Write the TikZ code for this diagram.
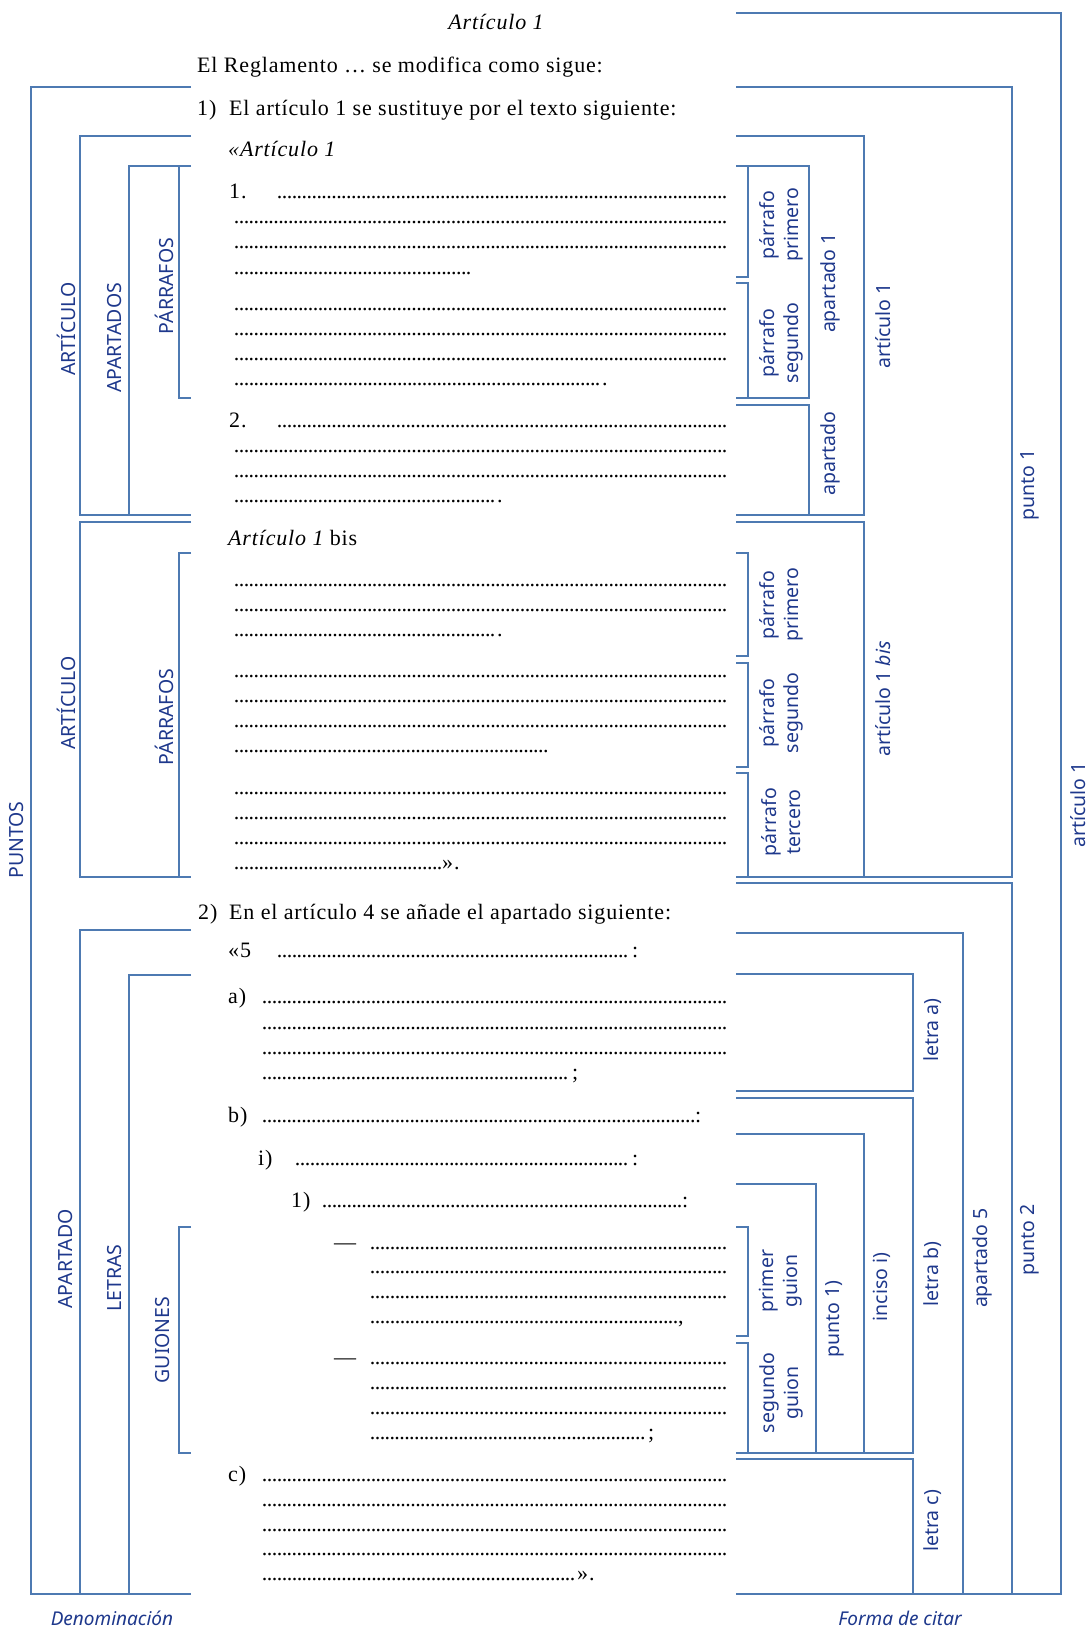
\documentclass[tikz,border=0pt]{standalone}
\usepackage{fontspec}
\setmainfont{Liberation Serif}[LetterSpace=3.8]
\newfontfamily\labfont{Noto Sans}
\definecolor{ln}{RGB}{78,122,178}
\definecolor{lb}{RGB}{30,56,140}
\tikzset{
  br/.style={draw=ln, line width=1.7pt},
  txt/.style={anchor=base west, inner sep=0pt, font=\fontsize{22}{25}\selectfont},
  vl/.style={rotate=90, text=lb, inner sep=0pt, align=center, font=\labfont\fontsize{19.5}{24}\selectfont},
  lbl/.style={text=lb, inner sep=0pt, font=\labfont\fontsize{19}{22}\selectfont},
}
% dotted text row: name, x start, x end, baseline, suffix
\newcommand\drow[5]{\node[txt] (#1) at (#2,#4) {\hbox to \dimexpr #3pt-#2pt\relax{\xleaders\hbox to 4.9pt{\hss.\hss}\hfill}#5};}
\begin{document}
\begin{tikzpicture}[x=1pt,y=-1pt]
\useasboundingbox (0,0) rectangle (1089,1629);
% ---------- left brackets (Denominacion)
\draw[br] (191,87) -- (31,87) -- (31,1594) -- (191,1594);
\draw[br] (191,136) -- (80,136) -- (80,515) -- (191,515);
\draw[br] (191,166) -- (129,166) -- (129,515);
\draw[br] (179,166) -- (179,398) -- (191,398);
\draw[br] (191,522) -- (80,522) -- (80,877) -- (191,877);
\draw[br] (191,553) -- (179,553) -- (179,877);
\draw[br] (191,930) -- (80,930) -- (80,1594);
\draw[br] (191,975) -- (129,975) -- (129,1594);
\draw[br] (191,1227) -- (179,1227) -- (179,1453) -- (191,1453);
% ---------- right brackets (Forma de citar)
\draw[br] (736,13) -- (1061,13) -- (1061,1594) -- (736,1594);
\draw[br] (736,87) -- (1012,87) -- (1012,877) -- (736,877);
\draw[br] (736,136) -- (864,136) -- (864,515) -- (736,515);
\draw[br] (736,166) -- (809,166) -- (809,398) -- (736,398);
\draw[br] (748,166) -- (748,277) -- (736,277);
\draw[br] (736,283) -- (748,283) -- (748,398);
\draw[br] (736,405) -- (809,405) -- (809,515);
\draw[br] (736,522) -- (864,522) -- (864,877);
\draw[br] (736,553) -- (748,553) -- (748,656) -- (736,656);
\draw[br] (736,663) -- (748,663) -- (748,767) -- (736,767);
\draw[br] (736,773) -- (748,773) -- (748,877);
\draw[br] (736,883) -- (1012,883) -- (1012,1594);
\draw[br] (736,933) -- (963,933) -- (963,1594);
\draw[br] (736,974) -- (913,974) -- (913,1091) -- (736,1091);
\draw[br] (736,1098) -- (913,1098) -- (913,1453) -- (736,1453);
\draw[br] (736,1134) -- (864,1134) -- (864,1453);
\draw[br] (736,1184) -- (816,1184) -- (816,1453);
\draw[br] (736,1227) -- (748,1227) -- (748,1336) -- (736,1336);
\draw[br] (736,1343) -- (748,1343) -- (748,1453);
\draw[br] (736,1459) -- (913,1459) -- (913,1594);
% ---------- text
\node[txt, anchor=base] (h) at (496,30) {\itshape Artículo 1};
\node[txt] (t1) at (197,73) {El Reglamento … se modifica como sigue:};
\node[txt] (t2a) at (197,116) {1)};
\node[txt] (t2b) at (229,116) {El artículo 1 se sustituye por el texto siguiente:};
\node[txt] (t3) at (228,157) {\itshape «Artículo 1};
\node[txt] (p1) at (229,199) {1.};
\drow{d1}{277}{727}{199}{}
\drow{d2}{234}{727}{224}{}
\drow{d3}{234}{727}{249}{}
\drow{d4}{234}{471}{274}{}
\drow{d5}{234}{727}{310}{}
\drow{d6}{234}{727}{335}{}
\drow{d7}{234}{727}{360}{}
\drow{d8}{234}{600}{385}{\kern2pt.}
\node[txt] (p2) at (229,427) {2.};
\drow{d9}{277}{727}{427}{}
\drow{d10}{234}{727}{452}{}
\drow{d11}{234}{727}{477}{}
\drow{d12}{234}{495}{502}{\kern2pt.}
\node[txt] (t4) at (228,545) {\itshape Artículo 1\upshape\ bis};
\drow{d13}{234}{727}{586}{}
\drow{d14}{234}{727}{611}{}
\drow{d15}{234}{495}{636}{\kern2pt.}
\drow{d16}{234}{727}{677}{}
\drow{d17}{234}{727}{702}{}
\drow{d18}{234}{727}{727}{}
\drow{d19}{234}{548}{752}{}
\drow{d20}{234}{727}{794}{}
\drow{d21}{234}{727}{819}{}
\drow{d22}{234}{727}{844}{}
\drow{d23}{234}{442}{869}{».}
\node[txt] (t5a) at (198,919) {2)};
\node[txt] (t5b) at (229,919) {En el artículo 4 se añade el apartado siguiente:};
\node[txt] (t6) at (228,957) {«5};
\drow{d24}{277}{628}{957}{\kern4pt:}
\node[txt] (la) at (228,1003) {a)};
\drow{d25}{262}{727}{1003}{}
\drow{d26}{262}{727}{1029}{}
\drow{d27}{262}{727}{1054}{}
\drow{d28}{262}{568}{1079}{\kern4pt;}
\node[txt] (lb) at (228,1122) {b)};
\drow{d29}{262}{695}{1122}{:}
\node[txt] (li) at (258,1165) {i)};
\drow{d30}{295}{628}{1165}{\kern4pt:}
\node[txt] (l1) at (291,1207) {1)};
\drow{d31}{322}{682}{1207}{:}
\node[txt] (g1) at (334,1249) {—};
\drow{d32}{370}{727}{1249}{}
\drow{d33}{370}{727}{1273}{}
\drow{d34}{370}{727}{1298}{}
\drow{d35}{370}{678}{1323}{,}
\node[txt] (g2) at (334,1364) {—};
\drow{d36}{370}{727}{1364}{}
\drow{d37}{370}{727}{1389}{}
\drow{d38}{370}{727}{1414}{}
\drow{d39}{370}{645}{1439}{\kern3pt;}
\node[txt] (lc) at (228,1481) {c)};
\drow{d40}{262}{727}{1481}{}
\drow{d41}{262}{727}{1506}{}
\drow{d42}{262}{727}{1531}{}
\drow{d43}{262}{727}{1555}{}
\drow{d44}{262}{575}{1580}{\kern2pt».}
% ---------- left labels
\node[vl] (L1) at (17,840) {PUNTOS};
\node[vl] (L2) at (66,329) {ARTÍCULO};
\node[vl] (L3) at (115,338) {APARTADOS};
\node[vl] (L4) at (164,286) {PÁRRAFOS};
\node[vl] (L5) at (66,703) {ARTÍCULO};
\node[vl] (L6) at (164,717) {PÁRRAFOS};
\node[vl] (L7) at (66,1259) {APARTADO};
\node[vl] (L8) at (115,1278) {LETRAS};
\node[vl] (L9) at (163,1340) {GUIONES};
\node[lbl] (den) at (112,1618) {\itshape Denominación};
% ---------- right labels
\node[vl] (R1) at (781,225) {párrafo\\primero};
\node[vl] (R2) at (830,283) {apartado 1};
\node[vl] (R3) at (883,326) {artículo 1};
\node[vl] (R4) at (781,343) {párrafo\\segundo};
\node[vl] (R5) at (830,454) {apartado};
\node[vl] (R6) at (1030,485) {punto 1};
\node[vl] (R7) at (781,605) {párrafo\\primero};
\node[vl] (R8) at (781,713) {párrafo\\segundo};
\node[vl] (R9) at (781,822) {párrafo\\tercero};
\node[vl] (R10) at (883,699) {artículo 1 \textit{bis}};
\node[vl] (R11) at (1078,805) {artículo 1};
\node[vl] (R12) at (933,1030) {letra a)};
\node[vl] (R13) at (933,1274) {letra b)};
\node[vl] (R14) at (933,1521) {letra c)};
\node[vl] (R15) at (982,1258) {apartado 5};
\node[vl] (R16) at (1030,1240) {punto 2};
\node[vl] (R17) at (882,1287) {inciso i)};
\node[vl] (R18) at (835,1319) {punto 1)};
\node[vl] (R19) at (781,1281) {primer\\guion};
\node[vl] (R20) at (781,1393) {segundo\\guion};
\node[lbl] (fc) at (900,1618) {\itshape Forma de citar};
\end{tikzpicture}
\end{document}
